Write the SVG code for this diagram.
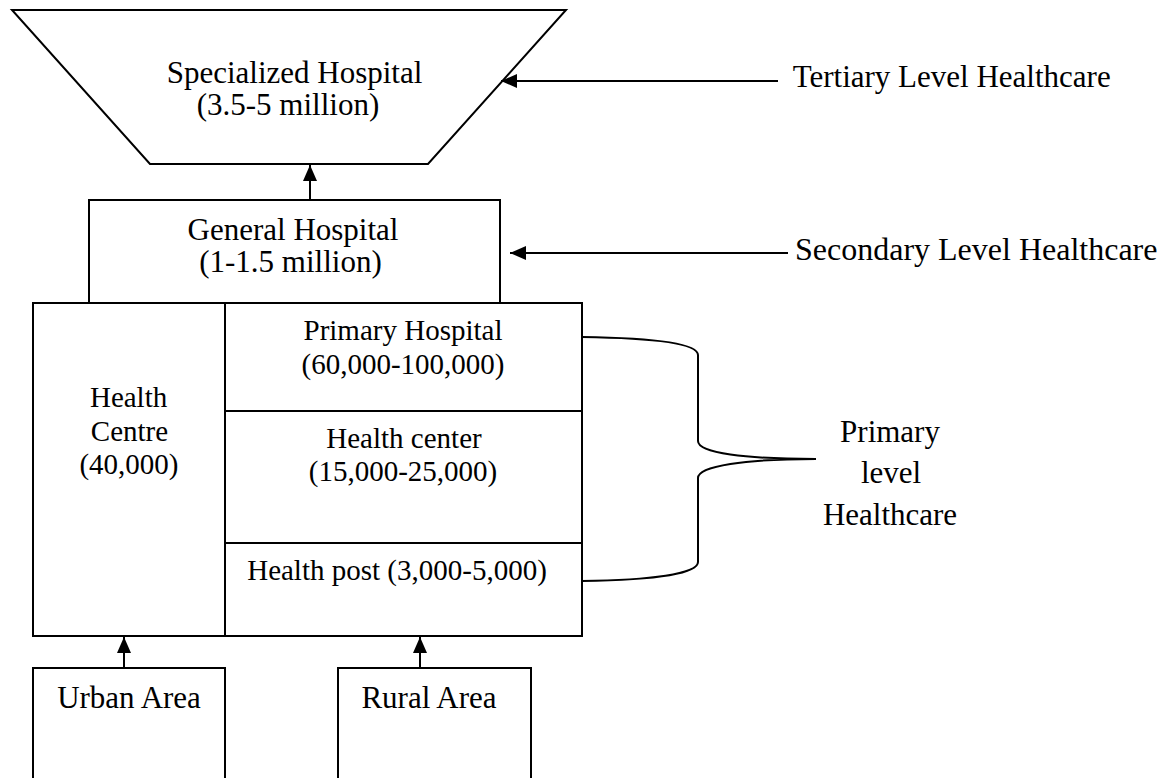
<svg xmlns="http://www.w3.org/2000/svg" width="1173" height="778" viewBox="0 0 1173 778">
<style>
.s{fill:#fff;stroke:#000;stroke-width:2}
.l{fill:none;stroke:#000;stroke-width:2}
.m{text-anchor:middle}
.b{font-size:31px}
.i{font-size:29px}
</style>
<defs>
<marker id="ah" markerUnits="userSpaceOnUse" markerWidth="16" markerHeight="14" refX="16" refY="7" orient="auto">
<path d="M0,0 L16,7 L0,14 z" fill="#000"/>
</marker>
</defs>
<rect width="1173" height="778" fill="#fff"/>
<g font-family="'Liberation Serif', 'Times New Roman', serif" fill="#000">
<g id="specialized">
<polygon class="s" points="12,10 566,10 428,164 150,164"/>
<text class="m b" x="294.5" y="83">Specialized Hospital</text>
<text class="m b" x="288" y="115">(3.5-5 million)</text>
</g>
<g id="general">
<rect class="s" x="89" y="200" width="411" height="103"/>
<text class="m b" x="293" y="240">General Hospital</text>
<text class="m b" x="290.5" y="272">(1-1.5 million)</text>
</g>
<g id="primary-block">
<rect class="s" x="33" y="303" width="549" height="333"/>
<line class="l" x1="225" y1="303" x2="225" y2="636"/>
</g>
<g id="health-centre">
<text class="m i" x="128.6" y="407">Health</text>
<text class="m i" x="129.5" y="441">Centre</text>
<text class="m i" x="129" y="474">(40,000)</text>
</g>
<g id="primary-hospital">
<text class="m i" x="403" y="340">Primary Hospital</text>
<text class="m i" x="403" y="374">(60,000-100,000)</text>
</g>
<g id="health-center">
<line class="l" x1="225" y1="411" x2="582" y2="411"/>
<text class="m i" x="404" y="448">Health center</text>
<text class="m i" x="403" y="481">(15,000-25,000)</text>
</g>
<g id="health-post">
<line class="l" x1="225" y1="543" x2="582" y2="543"/>
<text class="m i" x="397" y="580">Health post (3,000-5,000)</text>
</g>
<g id="urban">
<polyline class="l" points="33,790 33,668 225,668 225,790"/>
<text class="m b" x="129" y="708">Urban Area</text>
</g>
<g id="rural">
<polyline class="l" points="338,790 338,668 531,668 531,790"/>
<text class="m b" x="429" y="708">Rural Area</text>
</g>
<g id="tertiary-label">
<text class="b" x="792.7" y="87">Tertiary Level Healthcare</text>
</g>
<g id="secondary-label">
<text class="b" x="795" y="260" style="font-size:32px">Secondary Level Healthcare</text>
</g>
<g id="primary-label">
<text class="m b" x="890" y="442">Primary</text>
<text class="m b" x="891" y="483">level</text>
<text class="m b" x="890" y="525">Healthcare</text>
</g>
</g>
<g id="connectors">
<line class="l" x1="310" y1="200" x2="310" y2="165" marker-end="url(#ah)"/>
<line class="l" x1="124" y1="668" x2="124" y2="637" marker-end="url(#ah)"/>
<line class="l" x1="420" y1="668" x2="420" y2="637" marker-end="url(#ah)"/>
<line class="l" x1="778" y1="81" x2="501" y2="81" marker-end="url(#ah)"/>
<line class="l" x1="788" y1="253" x2="510" y2="253" marker-end="url(#ah)"/>
<path class="l" d="M582,337 C650,338 698,343 698,355 L698,441 C698,453 745,459 816,459 C745,459 698,466 698,478 L698,562 C698,574 650,580 582,581"/>
</g>
</svg>
